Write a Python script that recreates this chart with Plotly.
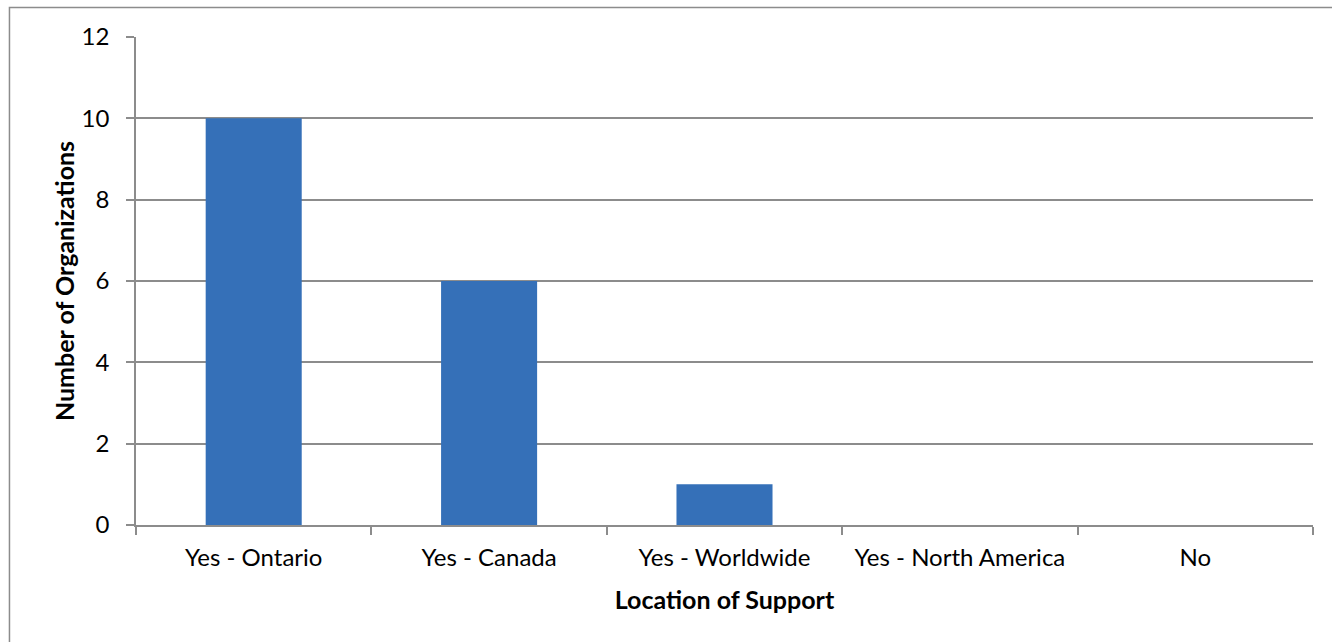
import plotly.graph_objects as go

categories = ["Yes - Ontario", "Yes - Canada", "Yes - Worldwide", "Yes - North America", "No"]
counts = [10, 6, 1, 0, 0]
y_ticks = [0, 2, 4, 6, 8, 10, 12]

FONT = "Lato, 'Open Sans', sans-serif"

fig = go.Figure()
fig.add_trace(go.Bar(
    x=categories, y=counts,
    marker=dict(color="#3570b8", line=dict(width=0)),
    hoverinfo="x+y",
))

fig.update_layout(
    width=1332, height=642,
    margin=dict(l=136, r=19, t=37, b=117),
    paper_bgcolor="white", plot_bgcolor="white",
    bargap=0.592,
    showlegend=False,
    font=dict(family=FONT, size=24, color="black"),
    shapes=[dict(type="rect", xref="paper", yref="paper",
                 x0=-0.1075, x1=1.2, y0=-0.4, y1=1.0605,
                 line=dict(color="#8c8c8c", width=1.5), layer="below")],
)
fig.update_xaxes(
    type="category",
    showline=True, linecolor="#8c8c8c", linewidth=1.5,
    ticks="outside", ticklen=8, tickcolor="#8c8c8c", tickwidth=1.5,
    tickson="boundaries",
    showgrid=False,
    ticklabelstandoff=10,
    tickfont=dict(size=24),
    title=dict(text="<b>Location of Support</b>", standoff=22, font=dict(size=25)),
)
fig.update_yaxes(
    range=[0, 12], tickvals=y_ticks,
    showline=True, linecolor="#8c8c8c", linewidth=1.5,
    ticks="outside", ticklen=8, tickcolor="#8c8c8c", tickwidth=1.5,
    showgrid=True, gridcolor="#8c8c8c", gridwidth=1.5,
    zeroline=False,
    ticklabelstandoff=12,
    tickfont=dict(size=24),
    title=dict(text="<b>Number of Organizations</b>", standoff=0, font=dict(size=25)),
)

fig.write_html("out.html")
